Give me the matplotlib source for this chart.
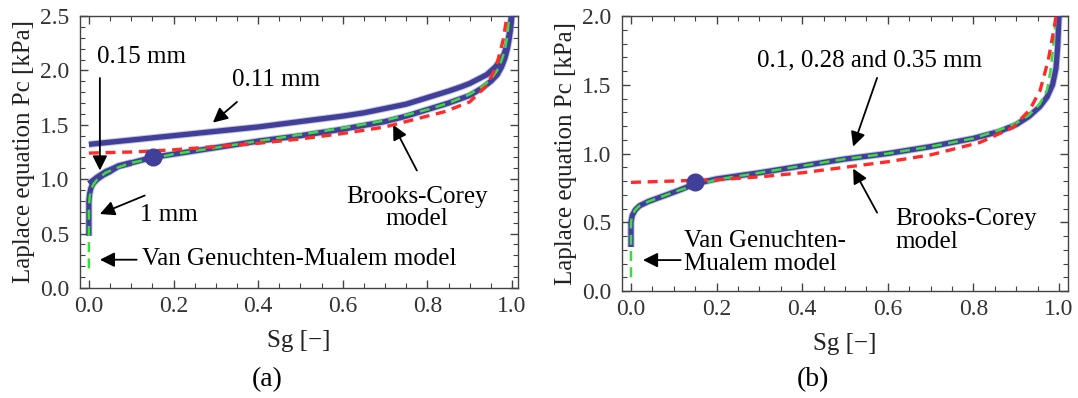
"""
Capillary pressure curves: Laplace equation vs Van Genuchten-Mualem and Brooks-Corey fits.
"""

import matplotlib
import matplotlib.pyplot as plt
from matplotlib.ticker import MultipleLocator, FormatStrFormatter

matplotlib.use('Agg')

plt.rcParams['font.family'] = ['Liberation Serif', 'DejaVu Serif']

# ---- panel (a) data ----
sg_a_011 = [0.0, 0.1, 0.2, 0.3, 0.4, 0.5, 0.6, 0.65, 0.7, 0.75, 0.8, 0.85, 0.88, 0.9, 0.92,
            0.94, 0.96, 0.972, 0.981, 0.988, 0.992, 0.995, 0.997, 0.999]
pc_a_011 = [1.32, 1.36, 1.40, 1.44, 1.48, 1.53, 1.58, 1.61, 1.65, 1.69, 1.75, 1.81, 1.85, 1.88, 1.92,
            1.96, 2.03, 2.09, 2.15, 2.23, 2.30, 2.37, 2.43, 2.5]

sg_a_015 = [0.0, 0.01, 0.02, 0.04, 0.07, 0.1, 0.15, 0.2, 0.3, 0.4, 0.5, 0.6, 0.7, 0.75, 0.8,
            0.85, 0.9, 0.93, 0.95, 0.965, 0.975, 0.983, 0.989, 0.993, 0.996, 0.999]
pc_a_015 = [0.96, 0.99, 1.02, 1.07, 1.12, 1.15, 1.20, 1.23, 1.29, 1.35, 1.40, 1.46, 1.53, 1.58, 1.64,
            1.70, 1.77, 1.84, 1.90, 1.96, 2.03, 2.11, 2.20, 2.29, 2.38, 2.5]

sg_a_1mm = [0.0, 0.0, 0.002, 0.005, 0.01, 0.02, 0.035, 0.05, 0.07, 0.1]
pc_a_1mm = [0.48, 0.80, 0.87, 0.92, 0.96, 1.00, 1.04, 1.07, 1.12, 1.15]

sg_a_vg = [0.0, 0.0, 0.002, 0.005, 0.01, 0.02, 0.04, 0.07, 0.1, 0.15, 0.2, 0.3, 0.4, 0.5, 0.6,
           0.7, 0.8, 0.85, 0.9, 0.93, 0.95, 0.965, 0.975, 0.983, 0.989, 0.993]
pc_a_vg = [0.18, 0.75, 0.84, 0.90, 0.95, 1.00, 1.06, 1.11, 1.15, 1.19, 1.23, 1.29, 1.35, 1.41, 1.47,
           1.54, 1.64, 1.70, 1.78, 1.85, 1.92, 2.00, 2.09, 2.19, 2.32, 2.5]

sg_a_bc = [0.0, 0.1, 0.2, 0.3, 0.4, 0.5, 0.6, 0.7, 0.78, 0.84, 0.9, 0.94, 0.963, 0.979, 0.988]
pc_a_bc = [1.24, 1.25, 1.27, 1.30, 1.33, 1.37, 1.42, 1.48, 1.56, 1.62, 1.71, 1.86, 2.04, 2.28, 2.5]

mark_a = (0.151, 1.20)

# ---- panel (b) data ----
sg_b = [0.0, 0.0, 0.003, 0.01, 0.02, 0.04, 0.075, 0.11, 0.15, 0.2, 0.3, 0.4, 0.5, 0.6, 0.7,
        0.8, 0.86, 0.9, 0.93, 0.955, 0.972, 0.985, 0.993, 0.997, 1.0]
pc_b = [0.32, 0.50, 0.55, 0.59, 0.62, 0.65, 0.69, 0.73, 0.78, 0.815, 0.86, 0.91, 0.96, 1.00, 1.05,
        1.11, 1.16, 1.21, 1.27, 1.34, 1.41, 1.50, 1.62, 1.78, 2.0]

sg_b_vg = [0.0, 0.0, 0.003, 0.01, 0.02, 0.04, 0.075, 0.11, 0.15, 0.2, 0.3, 0.4, 0.5, 0.6, 0.7,
           0.8, 0.86, 0.9, 0.93, 0.955, 0.972, 0.98, 0.986, 0.99, 0.993]
pc_b_vg = [0.10, 0.50, 0.55, 0.59, 0.62, 0.65, 0.69, 0.73, 0.77, 0.81, 0.86, 0.91, 0.96, 1.00, 1.05,
           1.11, 1.17, 1.22, 1.28, 1.36, 1.46, 1.60, 1.76, 1.90, 2.0]

sg_b_bc = [0.0, 0.1, 0.2, 0.3, 0.4, 0.5, 0.6, 0.7, 0.815, 0.893, 0.932, 0.956, 0.975, 0.988, 0.993]
pc_b_bc = [0.79, 0.80, 0.81, 0.83, 0.86, 0.90, 0.94, 0.99, 1.08, 1.19, 1.32, 1.46, 1.68, 1.90, 2.0]

mark_b = (0.15, 0.79)

BLUE = '#40409a'
RED = '#ff2a2a'
GREEN = '#3ddc3d'
FS = 18
TICK_FS = 17
ARROW = dict(arrowstyle='-|>', lw=1.3, color='black', mutation_scale=22, shrinkA=0, shrinkB=0)


def style_axes(ax, xlim, ylim):
    ax.set_xlim(*xlim)
    ax.set_ylim(*ylim)
    ax.xaxis.set_major_locator(MultipleLocator(0.2))
    ax.xaxis.set_minor_locator(MultipleLocator(0.05))
    ax.yaxis.set_major_locator(MultipleLocator(0.5))
    ax.yaxis.set_minor_locator(MultipleLocator(0.1))
    ax.tick_params(which='both', direction='in', top=True, right=True, color='#444444')
    ax.tick_params(which='major', length=6, width=1.0, labelsize=TICK_FS, labelcolor='#333333')
    ax.tick_params(which='minor', length=3.5, width=0.8)
    ax.tick_params(axis='y', which='major', pad=8)
    ax.tick_params(axis='x', which='major', pad=6)
    ax.xaxis.set_major_formatter(FormatStrFormatter('%.1f'))
    ax.yaxis.set_major_formatter(FormatStrFormatter('%.1f'))
    for s in ax.spines.values():
        s.set_color('#444444')
        s.set_linewidth(1.0)
    ax.set_xlabel('Sg [\u2212]', fontsize=FS, color='#222222', labelpad=9)
    ax.set_ylabel('Laplace equation Pc [kPa]', fontsize=FS, color='#222222', labelpad=3)


def blue_line(ax, x, y):
    ax.plot(x, y, color=BLUE, lw=5.2, alpha=0.3, solid_capstyle='butt', zorder=2)
    ax.plot(x, y, color=BLUE, lw=3.8, solid_capstyle='butt', zorder=3)


fig = plt.figure(figsize=(10.78, 3.98), dpi=100)
ax1 = fig.add_axes([0.0742, 0.2764, 0.4063, 0.6834])
ax2 = fig.add_axes([0.5770, 0.2688, 0.4137, 0.6910])

# ---- (a) ----
blue_line(ax1, sg_a_011, pc_a_011)
blue_line(ax1, sg_a_015, pc_a_015)
blue_line(ax1, sg_a_1mm, pc_a_1mm)
ax1.plot(sg_a_vg, pc_a_vg, color=GREEN, lw=1.8, linestyle=(0, (4, 2.5)), zorder=4)
ax1.plot(sg_a_bc, pc_a_bc, color=RED, lw=2.4, linestyle=(0, (3, 2)), zorder=4)
ax1.plot(*mark_a, 'o', color=BLUE, markersize=12, zorder=5)
style_axes(ax1, (-0.021, 1.014), (0, 2.5))

ax1.text(0.02, 2.12, '0.15 mm', fontsize=FS, va='center')
ax1.annotate('', xy=(0.026, 1.08), xytext=(0.026, 1.93), arrowprops=ARROW)
ax1.text(0.442, 1.91, '0.11 mm', fontsize=FS, ha='center', va='center')
ax1.annotate('', xy=(0.293, 1.52), xytext=(0.35, 1.71), arrowprops=ARROW)
ax1.text(0.19, 0.67, '1 mm', fontsize=FS, ha='center', va='center')
ax1.annotate('', xy=(0.026, 0.68), xytext=(0.132, 0.85), arrowprops=ARROW)
ax1.text(0.125, 0.27, 'Van Genuchten-Mualem model', fontsize=FS, ha='left', va='center')
ax1.annotate('', xy=(0.026, 0.26), xytext=(0.113, 0.26), arrowprops=ARROW)
ax1.text(0.775, 0.735, 'Brooks-Corey\nmodel', fontsize=FS, ha='center', va='center',
         linespacing=1.05)
ax1.annotate('', xy=(0.719, 1.50), xytext=(0.775, 1.08), arrowprops=ARROW)

# ---- (b) ----
blue_line(ax2, sg_b, pc_b)
ax2.plot(sg_b_vg, pc_b_vg, color=GREEN, lw=1.8, linestyle=(0, (4, 2.5)), zorder=4)
ax2.plot(sg_b_bc, pc_b_bc, color=RED, lw=2.4, linestyle=(0, (3, 2)), zorder=4)
ax2.plot(*mark_b, 'o', color=BLUE, markersize=12, zorder=5)
style_axes(ax2, (-0.021, 1.021), (0, 2.0))

ax2.text(0.558, 1.68, '0.1, 0.28 and 0.35 mm', fontsize=FS, ha='center', va='center')
ax2.annotate('', xy=(0.519, 1.05), xytext=(0.575, 1.55), arrowprops=ARROW)
ax2.text(0.617, 0.44, 'Brooks-Corey\nmodel', fontsize=FS, ha='left', va='center',
         linespacing=1.05)
ax2.annotate('', xy=(0.519, 0.89), xytext=(0.575, 0.57), arrowprops=ARROW)
ax2.text(0.125, 0.28, 'Van Genuchten-\nMualem model', fontsize=FS, ha='left', va='center',
         linespacing=1.05)
ax2.annotate('', xy=(0.028, 0.225), xytext=(0.116, 0.225), arrowprops=ARROW)

fig.text(267 / 1078, 1 - 380 / 398, '(a)', fontsize=FS + 2, ha='center', va='center')
fig.text(813 / 1078, 1 - 380 / 398, '(b)', fontsize=FS + 2, ha='center', va='center')

fig.savefig('out.png', dpi=100)
plt.close(fig)
